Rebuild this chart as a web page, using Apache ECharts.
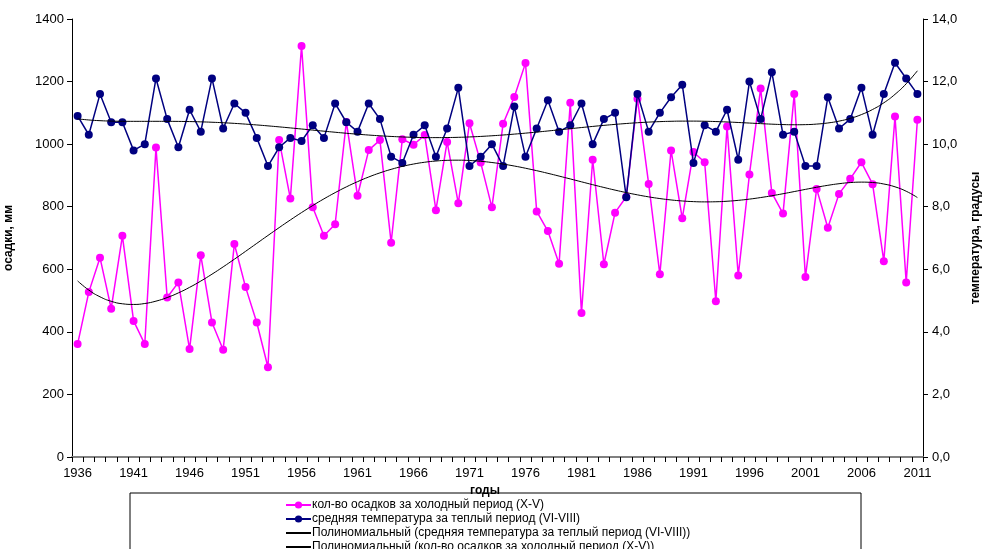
<!DOCTYPE html>
<html><head><meta charset="utf-8">
<script src="https://cdn.jsdelivr.net/npm/echarts@6/dist/echarts.min.js"></script>
<style>html,body{margin:0;padding:0;background:#fff}#c{width:982px;height:549px}</style>
</head><body><div id="c"></div>
<script>
const years = ['1936','1937','1938','1939','1940','1941','1942','1943','1944','1945','1946','1947','1948','1949','1950','1951','1952','1953','1954','1955','1956','1957','1958','1959','1960','1961','1962','1963','1964','1965','1966','1967','1968','1969','1970','1971','1972','1973','1974','1975','1976','1977','1978','1979','1980','1981','1982','1983','1984','1985','1986','1987','1988','1989','1990','1991','1992','1993','1994','1995','1996','1997','1998','1999','2000','2001','2002','2003','2004','2005','2006','2007','2008','2009','2010','2011'];
const precip = [361,527,637,474,707,435,361,989,510,558,345,645,430,343,681,543,430,287,1013,826,1314,798,707,744,1071,835,981,1013,685,1016,998,1029,789,1007,811,1067,941,798,1065,1151,1259,785,722,618,1132,460,950,616,781,832,1145,873,584,980,763,975,942,498,1056,580,903,1178,844,778,1160,575,857,733,841,889,942,872,626,1088,558,1078];
const temp = [10.9,10.3,11.6,10.7,10.7,9.8,10.0,12.1,10.8,9.9,11.1,10.4,12.1,10.5,11.3,11.0,10.2,9.3,9.9,10.2,10.1,10.6,10.2,11.3,10.7,10.4,11.3,10.8,9.6,9.4,10.3,10.6,9.6,10.5,11.8,9.3,9.6,10.0,9.3,11.2,9.6,10.5,11.4,10.4,10.6,11.3,10.0,10.8,11.0,8.3,11.6,10.4,11.0,11.5,11.9,9.4,10.6,10.4,11.1,9.5,12.0,10.8,12.3,10.3,10.4,9.3,9.3,11.5,10.5,10.8,11.8,10.3,11.6,12.6,12.1,11.6];
const leftTicks = {min:0, max:1400, interval:200};
const rightTicks = {min:0, max:14, interval:2};
const names = ['кол-во осадков за холодный период (X-V)','средняя температура за теплый период (VI-VIII)','Полиномиальный (средняя температура за теплый период (VI-VIII))','Полиномиальный (кол-во осадков за холодный период (X-V))'];

// least-squares polynomial trend (like Excel "Полиномиальный", order 6)
function polyTrend(ys, deg){
  const n=ys.length, h=(n-1)/2;
  const t=ys.map((_,i)=>(i-h)/h);
  const m=deg+1;
  const A=[],b=[];
  for(let j=0;j<m;j++){A.push(new Array(m).fill(0));b.push(0);}
  for(let i=0;i<n;i++){
    for(let j=0;j<m;j++){
      b[j]+=ys[i]*Math.pow(t[i],j);
      for(let k=0;k<m;k++) A[j][k]+=Math.pow(t[i],j+k);
    }
  }
  for(let c=0;c<m;c++){
    let p=c;for(let r=c+1;r<m;r++) if(Math.abs(A[r][c])>Math.abs(A[p][c])) p=r;
    [A[c],A[p]]=[A[p],A[c]];[b[c],b[p]]=[b[p],b[c]];
    for(let r=c+1;r<m;r++){const f=A[r][c]/A[c][c];for(let k=c;k<m;k++)A[r][k]-=f*A[c][k];b[r]-=f*b[c];}
  }
  const co=new Array(m).fill(0);
  for(let r=m-1;r>=0;r--){let s=b[r];for(let k=r+1;k<m;k++)s-=A[r][k]*co[k];co[r]=s/A[r][r];}
  return t.map(x=>co.reduce((s,c,j)=>s+c*Math.pow(x,j),0));
}
const precipTrend = polyTrend(precip,6);
const tempTrend = polyTrend(temp,6);

const chart = echarts.init(document.getElementById('c'));
const font = 'Arial, "Liberation Sans", sans-serif';
const hiddenMarker = {color:'rgba(0,0,0,0)',borderWidth:0,opacity:0};
chart.setOption({
  animation:false,
  backgroundColor:'#fff',
  textStyle:{fontFamily:font},
  grid:{left:72,right:59,top:19,bottom:92,containLabel:false,outerBoundsMode:'none'},
  legend:{
    orient:'vertical', left:280, top:494, height:120,
    itemWidth:25, itemHeight:9, itemGap:2,
    textStyle:{fontSize:12,color:'#000',fontFamily:'"Liberation Sans Narrow", "Arial Narrow", Arial, sans-serif',padding:[0,0,0,-4]},
    data:[
      {name:names[0]},
      {name:names[1]},
      {name:names[2],itemStyle:hiddenMarker},
      {name:names[3],itemStyle:hiddenMarker}
    ]
  },
  graphic:[{type:'rect',shape:{x:130,y:493,width:731,height:70},style:{fill:'none',stroke:'#000',lineWidth:1},silent:true}],
  xAxis:{
    type:'category', data:years, boundaryGap:true,
    name:'годы', nameLocation:'middle', nameGap:25,
    nameTextStyle:{fontSize:12,fontWeight:'bold',color:'#000',padding:[0,25,0,0]},
    axisLine:{lineStyle:{color:'#808080',width:2}},
    axisTick:{show:true,interval:0,length:5,lineStyle:{color:'#000'}},
    axisLabel:{interval:4,fontSize:13,color:'#000',margin:10},
    splitLine:{show:false}
  },
  yAxis:[{
    type:'value', min:leftTicks.min, max:leftTicks.max, interval:leftTicks.interval,
    name:'осадки, мм', nameLocation:'middle', nameGap:57, nameRotate:90,
    nameTextStyle:{fontSize:12,fontWeight:'bold',color:'#000'},
    axisLine:{show:true,lineStyle:{color:'#000',width:1}},
    axisTick:{show:true,length:5,lineStyle:{color:'#000'}},
    axisLabel:{fontSize:13,color:'#000',margin:8,formatter:v=>String(v)},
    splitLine:{show:false}
  },{
    type:'value', min:rightTicks.min, max:rightTicks.max, interval:rightTicks.interval, position:'right',
    name:'температура, градусы', nameLocation:'middle', nameGap:47, nameRotate:90,
    nameTextStyle:{fontSize:12,fontWeight:'bold',color:'#000'},
    axisLine:{show:true,lineStyle:{color:'#000',width:1}},
    axisTick:{show:true,length:5,lineStyle:{color:'#000'}},
    axisLabel:{fontSize:13,color:'#000',margin:9,formatter:v=>v.toFixed(1).replace('.',',')},
    splitLine:{show:false}
  }],
  series:[
    {name:names[0],type:'line',yAxisIndex:0,data:precip,symbol:'circle',symbolSize:8,showAllSymbol:true,
     itemStyle:{color:'#FF00FF'},lineStyle:{color:'#FF00FF',width:1.5},z:2},
    {name:names[1],type:'line',yAxisIndex:1,data:temp,symbol:'circle',symbolSize:8,showAllSymbol:true,
     itemStyle:{color:'#000080'},lineStyle:{color:'#000080',width:1.5},z:3},
    {name:names[2],type:'line',yAxisIndex:1,data:tempTrend,symbol:'none',smooth:true,
     itemStyle:{color:'#000'},lineStyle:{color:'#000',width:1},z:4},
    {name:names[3],type:'line',yAxisIndex:0,data:precipTrend,symbol:'none',smooth:true,
     itemStyle:{color:'#000'},lineStyle:{color:'#000',width:1},z:4}
  ]
});
</script></body></html>
